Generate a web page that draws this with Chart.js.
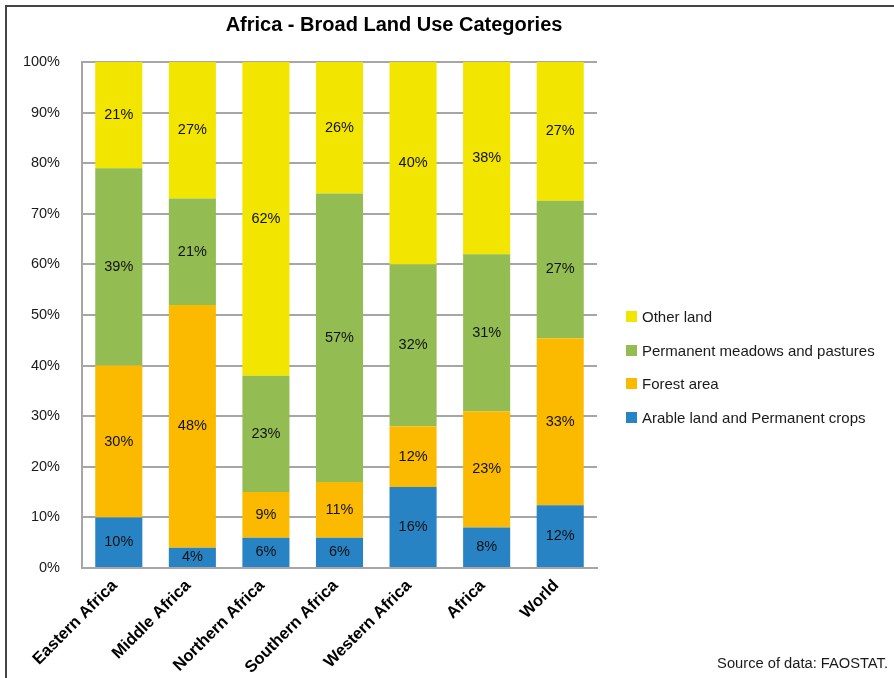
<!DOCTYPE html>
<html>
<head>
<meta charset="utf-8">
<script src="https://cdn.jsdelivr.net/npm/chart.js@4.4.1/dist/chart.umd.min.js"></script>
<style>
body { margin: 0; width: 894px; height: 678px; overflow: hidden; background: #fff; position: relative;
       font-family: 'Liberation Sans', Arial, sans-serif; }
#frame { position: absolute; left: 5px; top: 5px; width: 1000px; height: 1000px;
         border-left: 2px solid #444; border-top: 2px solid #444; }
#chart { position: absolute; left: 0; top: 0; }
#title { position: absolute; left: 0; width: 788px; top: 13px; text-align: center;
         font-size: 20px; font-weight: bold; color: #000; }
.leg { position: absolute; left: 626px; height: 20px; display: flex; align-items: center;
       font-size: 15px; color: #1a1a1a; white-space: nowrap; }
.leg span.box { width: 11px; height: 11px; margin-right: 5px; }
#source { position: absolute; right: 6px; top: 655px; font-size: 14.7px; color: #1a1a1a; }
</style>
</head>
<body>
<div id="frame"></div>
<canvas id="chart" width="788" height="678"></canvas>
<div id="title">Africa - Broad Land Use Categories</div>
<div id="legend"></div>
<div id="source">Source of data: FAOSTAT.</div>
<script>
// land use shares (%) per region
const regions = ['Eastern Africa', 'Middle Africa', 'Northern Africa', 'Southern Africa', 'Western Africa', 'Africa', 'World'];
const arableLand = [10, 4, 6, 6, 16, 8, 12.4];
const forestArea = [30, 48, 9, 11, 12, 23, 33.0];
const meadowsPastures = [39, 21, 23, 57, 32, 31, 27.2];
const otherLand = [21, 27, 62, 26, 40, 38, 27.4];

const seriesNames = ['Arable land and Permanent crops', 'Forest area', 'Permanent meadows and pastures', 'Other land'];
const seriesColors = ['#2783C3', '#FBBA00', '#93BD52', '#F2E500'];
const seriesData = [arableLand, forestArea, meadowsPastures, otherLand];

Chart.defaults.font.family = "'Liberation Sans', Arial, sans-serif";
Chart.defaults.color = '#1a1a1a';

// value labels in the middle of each segment
const segmentLabels = {
    id: 'segmentLabels',
    afterDatasetsDraw(chart) {
        const ctx = chart.ctx;
        ctx.save();
        ctx.font = "14.5px 'Liberation Sans', Arial, sans-serif";
        ctx.fillStyle = '#111';
        ctx.textAlign = 'center';
        ctx.textBaseline = 'middle';
        chart.data.datasets.forEach((ds, i) => {
            chart.getDatasetMeta(i).data.forEach((bar, j) => {
                const p = bar.getCenterPoint();
                ctx.fillText(Math.round(ds.data[j]) + '%', p.x, p.y);
            });
        });
        ctx.restore();
    }
};

const chart1 = document.getElementById('chart');

new Chart(chart1, {
    type: 'bar',
    data: {
        labels: regions,
        datasets: seriesData.map((d, i) => ({
            label: seriesNames[i],
            data: d,
            backgroundColor: seriesColors[i],
            borderWidth: 0,
            barPercentage: 0.64,
            categoryPercentage: 1
        }))
    },
    options: {
        responsive: false,
        animation: false,
        layout: { padding: { left: 0, right: 191, top: 62, bottom: 0 } },
        scales: {
            x: {
                stacked: true,
                grid: { display: false, drawTicks: false },
                border: { color: '#A6A6A6', width: 2 },
                ticks: {
                    autoSkip: false,
                    maxRotation: 45,
                    minRotation: 45,
                    padding: 8,
                    labelOffset: -4,
                    color: '#000',
                    font: { size: 16.5, weight: 'bold' }
                },
                afterFit: scale => { scale.height = 110; }
            },
            y: {
                stacked: true,
                min: 0,
                max: 100,
                grid: { color: '#A6A6A6', lineWidth: 2, drawTicks: false },
                border: { color: '#A6A6A6', width: 2 },
                ticks: {
                    stepSize: 10,
                    padding: 22,
                    font: { size: 14.5 },
                    callback: v => v + '%'
                },
                afterFit: scale => { scale.width = 82; }
            }
        },
        plugins: {
            legend: { display: false },
            tooltip: { enabled: false }
        }
    },
    plugins: [segmentLabels]
});

// legend on the right, top item = last series
const legendTops = [306, 340, 373, 407];
const legend = document.getElementById('legend');
for (let k = 0; k < seriesNames.length; k++) {
    const i = seriesNames.length - 1 - k;
    const row = document.createElement('div');
    row.className = 'leg';
    row.style.top = legendTops[k] + 'px';
    row.innerHTML = '<span class="box" style="background:' + seriesColors[i] + '"></span>' + seriesNames[i];
    legend.appendChild(row);
}
</script>
</body>
</html>
